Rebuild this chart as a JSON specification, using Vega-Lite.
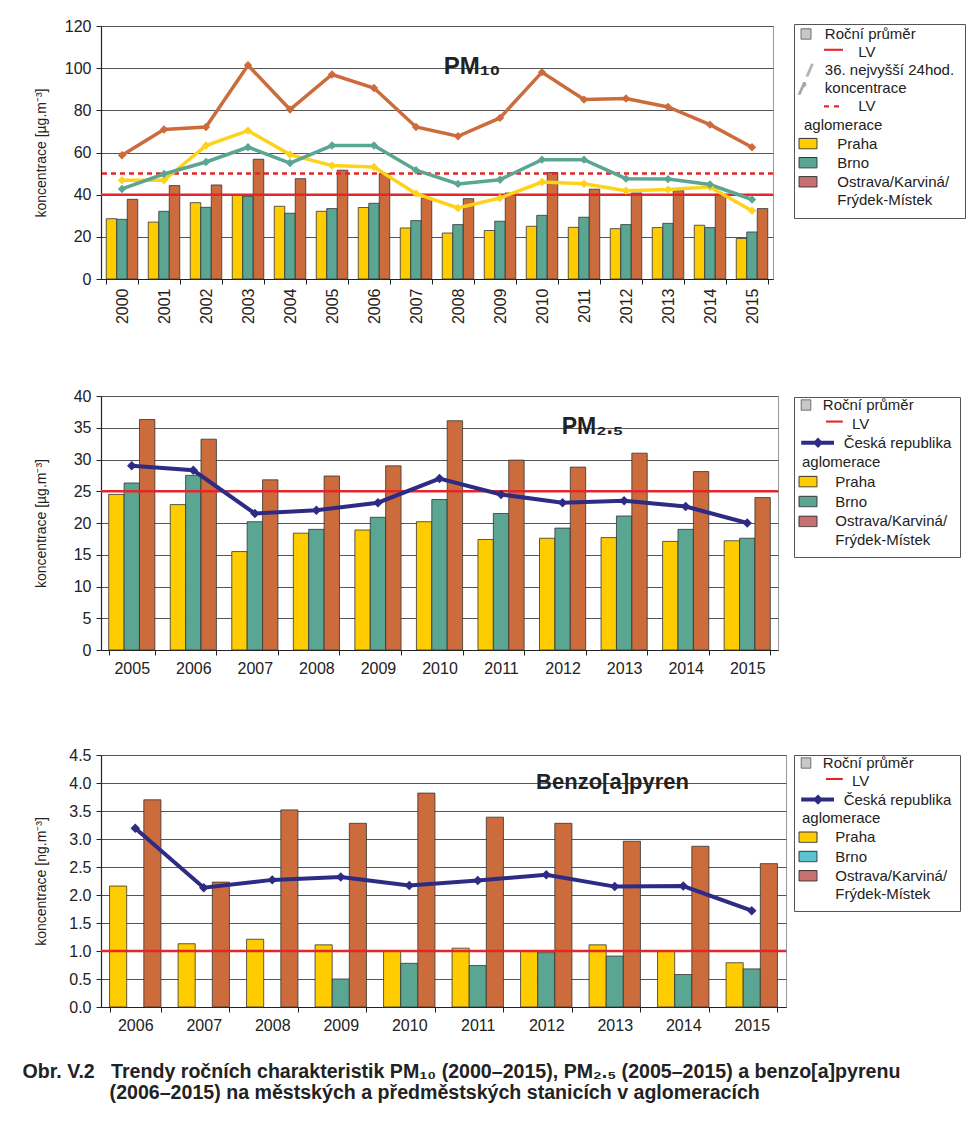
{
  "$schema": "https://vega.github.io/schema/vega-lite/v6.json",
  "padding": {"left": 22, "top": 17, "right": 5, "bottom": 5},
  "autosize": {"type": "pad"},
  "background": "white",
  "config": {
    "font": "Liberation Sans",
    "view": {"stroke": "#999999", "strokeWidth": 1},
    "axis": {
      "labelFontSize": 16, "labelColor": "#222222", "labelFont": "Liberation Sans",
      "titleFontSize": 14, "titleFontWeight": "normal", "titleColor": "#222222", "titleFont": "Liberation Sans",
      "domainColor": "#222222", "domainWidth": 1.2, "tickColor": "#222222", "tickSize": 5,
      "gridColor": "#555555", "gridWidth": 1
    },
    "legend": {"labelFont": "Liberation Sans"}
  },
  "datasets": {
    "pm10": [
      {"year": "2000", "city": "Praha", "mean": 28.6, "p36": 46.8},
      {"year": "2001", "city": "Praha", "mean": 27.0, "p36": 46.8},
      {"year": "2002", "city": "Praha", "mean": 36.2, "p36": 63.3},
      {"year": "2003", "city": "Praha", "mean": 40.0, "p36": 70.4},
      {"year": "2004", "city": "Praha", "mean": 34.5, "p36": 59.0},
      {"year": "2005", "city": "Praha", "mean": 32.1, "p36": 53.8},
      {"year": "2006", "city": "Praha", "mean": 33.9, "p36": 53.1},
      {"year": "2007", "city": "Praha", "mean": 24.2, "p36": 40.5},
      {"year": "2008", "city": "Praha", "mean": 21.8, "p36": 33.7},
      {"year": "2009", "city": "Praha", "mean": 23.0, "p36": 38.4},
      {"year": "2010", "city": "Praha", "mean": 25.0, "p36": 46.0},
      {"year": "2011", "city": "Praha", "mean": 24.5, "p36": 45.2},
      {"year": "2012", "city": "Praha", "mean": 23.9, "p36": 41.9},
      {"year": "2013", "city": "Praha", "mean": 24.4, "p36": 42.4},
      {"year": "2014", "city": "Praha", "mean": 25.5, "p36": 43.6},
      {"year": "2015", "city": "Praha", "mean": 19.2, "p36": 32.4},
      {"year": "2000", "city": "Brno", "mean": 28.3, "p36": 42.7},
      {"year": "2001", "city": "Brno", "mean": 32.1, "p36": 49.8},
      {"year": "2002", "city": "Brno", "mean": 34.0, "p36": 55.5},
      {"year": "2003", "city": "Brno", "mean": 39.2, "p36": 62.5},
      {"year": "2004", "city": "Brno", "mean": 31.2, "p36": 55.0},
      {"year": "2005", "city": "Brno", "mean": 33.4, "p36": 63.3},
      {"year": "2006", "city": "Brno", "mean": 35.9, "p36": 63.3},
      {"year": "2007", "city": "Brno", "mean": 27.7, "p36": 51.6},
      {"year": "2008", "city": "Brno", "mean": 25.8, "p36": 45.1},
      {"year": "2009", "city": "Brno", "mean": 27.4, "p36": 47.1},
      {"year": "2010", "city": "Brno", "mean": 30.2, "p36": 56.6},
      {"year": "2011", "city": "Brno", "mean": 29.3, "p36": 56.6},
      {"year": "2012", "city": "Brno", "mean": 25.8, "p36": 47.6},
      {"year": "2013", "city": "Brno", "mean": 26.4, "p36": 47.4},
      {"year": "2014", "city": "Brno", "mean": 24.4, "p36": 44.8},
      {"year": "2015", "city": "Brno", "mean": 22.3, "p36": 37.7},
      {"year": "2000", "city": "Ostrava/Karviná/Frýdek-Místek", "mean": 37.8, "p36": 58.7},
      {"year": "2001", "city": "Ostrava/Karviná/Frýdek-Místek", "mean": 44.3, "p36": 70.9},
      {"year": "2002", "city": "Ostrava/Karviná/Frýdek-Místek", "mean": 44.6, "p36": 72.1},
      {"year": "2003", "city": "Ostrava/Karviná/Frýdek-Místek", "mean": 56.8, "p36": 101.4},
      {"year": "2004", "city": "Ostrava/Karviná/Frýdek-Místek", "mean": 47.6, "p36": 80.4},
      {"year": "2005", "city": "Ostrava/Karviná/Frýdek-Místek", "mean": 51.6, "p36": 97.0},
      {"year": "2006", "city": "Ostrava/Karviná/Frýdek-Místek", "mean": 50.0, "p36": 90.6},
      {"year": "2007", "city": "Ostrava/Karviná/Frýdek-Místek", "mean": 38.4, "p36": 72.1},
      {"year": "2008", "city": "Ostrava/Karviná/Frýdek-Místek", "mean": 38.1, "p36": 67.7},
      {"year": "2009", "city": "Ostrava/Karviná/Frýdek-Místek", "mean": 40.8, "p36": 76.4},
      {"year": "2010", "city": "Ostrava/Karviná/Frýdek-Místek", "mean": 50.5, "p36": 98.1},
      {"year": "2011", "city": "Ostrava/Karviná/Frýdek-Místek", "mean": 42.6, "p36": 85.1},
      {"year": "2012", "city": "Ostrava/Karviná/Frýdek-Místek", "mean": 40.8, "p36": 85.6},
      {"year": "2013", "city": "Ostrava/Karviná/Frýdek-Místek", "mean": 41.9, "p36": 81.6},
      {"year": "2014", "city": "Ostrava/Karviná/Frýdek-Místek", "mean": 40.2, "p36": 73.2},
      {"year": "2015", "city": "Ostrava/Karviná/Frýdek-Místek", "mean": 33.4, "p36": 62.5}
    ],
    "lv10": [{"typ": "LV", "value": 40}, {"typ": "LV36", "value": 50}],
    "pm25": [
      {"year": "2005", "city": "Praha", "mean": 24.5},
      {"year": "2006", "city": "Praha", "mean": 22.9},
      {"year": "2007", "city": "Praha", "mean": 15.5},
      {"year": "2008", "city": "Praha", "mean": 18.4},
      {"year": "2009", "city": "Praha", "mean": 18.9},
      {"year": "2010", "city": "Praha", "mean": 20.2},
      {"year": "2011", "city": "Praha", "mean": 17.4},
      {"year": "2012", "city": "Praha", "mean": 17.6},
      {"year": "2013", "city": "Praha", "mean": 17.7},
      {"year": "2014", "city": "Praha", "mean": 17.1},
      {"year": "2015", "city": "Praha", "mean": 17.2},
      {"year": "2005", "city": "Brno", "mean": 26.3},
      {"year": "2006", "city": "Brno", "mean": 27.5},
      {"year": "2007", "city": "Brno", "mean": 20.2},
      {"year": "2008", "city": "Brno", "mean": 19.0},
      {"year": "2009", "city": "Brno", "mean": 20.9},
      {"year": "2010", "city": "Brno", "mean": 23.7},
      {"year": "2011", "city": "Brno", "mean": 21.5},
      {"year": "2012", "city": "Brno", "mean": 19.2},
      {"year": "2013", "city": "Brno", "mean": 21.1},
      {"year": "2014", "city": "Brno", "mean": 19.0},
      {"year": "2015", "city": "Brno", "mean": 17.6},
      {"year": "2005", "city": "Ostrava/Karviná/Frýdek-Místek", "mean": 36.3},
      {"year": "2006", "city": "Ostrava/Karviná/Frýdek-Místek", "mean": 33.2},
      {"year": "2007", "city": "Ostrava/Karviná/Frýdek-Místek", "mean": 26.8},
      {"year": "2008", "city": "Ostrava/Karviná/Frýdek-Místek", "mean": 27.4},
      {"year": "2009", "city": "Ostrava/Karviná/Frýdek-Místek", "mean": 29.0},
      {"year": "2010", "city": "Ostrava/Karviná/Frýdek-Místek", "mean": 36.1},
      {"year": "2011", "city": "Ostrava/Karviná/Frýdek-Místek", "mean": 29.9},
      {"year": "2012", "city": "Ostrava/Karviná/Frýdek-Místek", "mean": 28.8},
      {"year": "2013", "city": "Ostrava/Karviná/Frýdek-Místek", "mean": 31.0},
      {"year": "2014", "city": "Ostrava/Karviná/Frýdek-Místek", "mean": 28.1},
      {"year": "2015", "city": "Ostrava/Karviná/Frýdek-Místek", "mean": 24.0}
    ],
    "pm25cr": [
      {"year": "2005", "value": 29.0}, {"year": "2006", "value": 28.3}, {"year": "2007", "value": 21.5},
      {"year": "2008", "value": 22.0}, {"year": "2009", "value": 23.2}, {"year": "2010", "value": 27.0},
      {"year": "2011", "value": 24.5}, {"year": "2012", "value": 23.2}, {"year": "2013", "value": 23.5},
      {"year": "2014", "value": 22.6}, {"year": "2015", "value": 20.0}
    ],
    "lv25": [{"typ": "LV", "value": 25}],
    "bap": [
      {"year": "2006", "city": "Praha", "mean": 2.16},
      {"year": "2007", "city": "Praha", "mean": 1.13},
      {"year": "2008", "city": "Praha", "mean": 1.21},
      {"year": "2009", "city": "Praha", "mean": 1.11},
      {"year": "2010", "city": "Praha", "mean": 1.0},
      {"year": "2011", "city": "Praha", "mean": 1.05},
      {"year": "2012", "city": "Praha", "mean": 1.0},
      {"year": "2013", "city": "Praha", "mean": 1.11},
      {"year": "2014", "city": "Praha", "mean": 1.0},
      {"year": "2015", "city": "Praha", "mean": 0.79},
      {"year": "2009", "city": "Brno", "mean": 0.5},
      {"year": "2010", "city": "Brno", "mean": 0.78},
      {"year": "2011", "city": "Brno", "mean": 0.74},
      {"year": "2012", "city": "Brno", "mean": 0.97},
      {"year": "2013", "city": "Brno", "mean": 0.91},
      {"year": "2014", "city": "Brno", "mean": 0.58},
      {"year": "2015", "city": "Brno", "mean": 0.68},
      {"year": "2006", "city": "Ostrava/Karviná/Frýdek-Místek", "mean": 3.7},
      {"year": "2007", "city": "Ostrava/Karviná/Frýdek-Místek", "mean": 2.23},
      {"year": "2008", "city": "Ostrava/Karviná/Frýdek-Místek", "mean": 3.52},
      {"year": "2009", "city": "Ostrava/Karviná/Frýdek-Místek", "mean": 3.28},
      {"year": "2010", "city": "Ostrava/Karviná/Frýdek-Místek", "mean": 3.82},
      {"year": "2011", "city": "Ostrava/Karviná/Frýdek-Místek", "mean": 3.39},
      {"year": "2012", "city": "Ostrava/Karviná/Frýdek-Místek", "mean": 3.28},
      {"year": "2013", "city": "Ostrava/Karviná/Frýdek-Místek", "mean": 2.96},
      {"year": "2014", "city": "Ostrava/Karviná/Frýdek-Místek", "mean": 2.87},
      {"year": "2015", "city": "Ostrava/Karviná/Frýdek-Místek", "mean": 2.56}
    ],
    "bapcr": [
      {"year": "2006", "value": 3.19}, {"year": "2007", "value": 2.13}, {"year": "2008", "value": 2.27},
      {"year": "2009", "value": 2.32}, {"year": "2010", "value": 2.17}, {"year": "2011", "value": 2.26},
      {"year": "2012", "value": 2.36}, {"year": "2013", "value": 2.15}, {"year": "2014", "value": 2.16},
      {"year": "2015", "value": 1.72}
    ],
    "lvbap": [{"typ": "LV", "value": 1}]
  },
  "title": {
    "text": ["Obr. V.2\u00a0\u00a0\u00a0Trendy ročních charakteristik PM₁₀ (2000–2015), PM₂.₅ (2005–2015) a benzo[a]pyrenu", "\u200b\u00a0\u00a0\u00a0\u00a0\u00a0\u00a0\u00a0\u00a0\u00a0\u00a0\u00a0\u00a0\u00a0\u00a0\u00a0\u00a0(2006–2015) na městských a předměstských stanicích v aglomeracích"],
    "orient": "bottom", "anchor": "start", "frame": "bounds",
    "fontSize": 19.6, "fontWeight": "bold", "color": "#222222", "font": "Liberation Sans",
    "offset": 29, "dx": -11, "lineHeight": 21
  },
  "spacing": 62,
  "resolve": {"scale": {"fill": "independent", "color": "independent", "strokeDash": "independent", "xOffset": "independent"}, "legend": {"strokeDash": "independent"}},
  "vconcat": [
    {
      "width": 672, "height": 253,
      "title": {"text": "PM₁₀", "fontSize": 24, "fontWeight": "bold", "color": "#222222", "anchor": "middle", "frame": "group", "dx": 35, "offset": -80, "baseline": "alphabetic"},
      "layer": [
        {
          "data": {"name": "pm10"},
          "mark": {"type": "bar", "stroke": "#333333", "strokeWidth": 0.8},
          "encoding": {
            "x": {"field": "year", "type": "nominal", "title": null,
              "scale": {"paddingInner": 0.25, "paddingOuter": 0.125},
              "axis": {"labelAngle": -90, "tickBand": "extent", "grid": false, "labelPadding": 4}},
            "xOffset": {"field": "city", "type": "nominal", "scale": {"domain": ["Praha", "Brno", "Ostrava/Karviná/Frýdek-Místek"], "paddingInner": 0, "paddingOuter": 0}},
            "y": {"field": "mean", "type": "quantitative", "title": "koncentrace [µg.m⁻³]",
              "scale": {"domain": [0, 120]},
              "axis": {"values": [0, 20, 40, 60, 80, 100, 120], "grid": true, "labelPadding": 5, "minExtent": 43, "maxExtent": 43, "titlePadding": 10}},
            "fill": {"field": "city", "type": "nominal", "legend": null,
              "scale": {"domain": ["Praha", "Brno", "Ostrava/Karviná/Frýdek-Místek"], "range": ["#ffcc00", "#5ba593", "#cc6b3b"]}}
          }
        },
        {
          "data": {"name": "lv10"},
          "mark": {"type": "rule", "color": "#e3262a"},
          "encoding": {
            "y": {"field": "value", "type": "quantitative", "title": "koncentrace [µg.m⁻³]",
              "scale": {"domain": [0, 120]},
              "axis": {"values": [0, 20, 40, 60, 80, 100, 120], "grid": true, "labelPadding": 5, "minExtent": 43, "maxExtent": 43, "titlePadding": 10}},
            "strokeWidth": {"value": 2.5},
            "strokeDash": {"field": "typ", "type": "nominal",
              "scale": {"domain": ["Roční průměr", "LV", "36. nejvyšší 24hod.", "koncentrace", "LV36", "aglomerace", "Praha", "Brno", "Ostrava/Karviná/", "Frýdek-Místek"],
                "range": [[1, 0], [1, 0], [1, 0], [1, 0], [5, 4], [1, 0], [1, 0], [1, 0], [1, 0], [1, 0]]},
              "legend": {
                "title": null, "orient": "none", "legendX": 693, "legendY": -2, "padding": 10,
                "strokeColor": "#555555", "fillColor": "white", "rowPadding": 3.1,
                "symbolSize": 256, "labelFontSize": 15, "labelColor": "#222222", "labelLimit": 300, "labelOffset": -13,
                "labelExpr": "['\u200b\u00a0\u00a0\u00a0\u00a0\u00a0','\u200b\u00a0\u00a0\u00a0\u00a0\u00a0\u00a0\u00a0\u00a0\u00a0\u00a0\u00a0\u00a0\u00a0','\u200b\u00a0\u00a0\u00a0\u00a0\u00a0','\u200b\u00a0\u00a0\u00a0\u00a0\u00a0','\u200b\u00a0\u00a0\u00a0\u00a0\u00a0\u00a0\u00a0\u00a0\u00a0\u00a0\u00a0\u00a0\u00a0','','\u200b\u00a0\u00a0\u00a0\u00a0\u00a0\u00a0\u00a0\u00a0','\u200b\u00a0\u00a0\u00a0\u00a0\u00a0\u00a0\u00a0\u00a0','\u200b\u00a0\u00a0\u00a0\u00a0\u00a0\u00a0\u00a0\u00a0','\u200b\u00a0\u00a0\u00a0\u00a0\u00a0\u00a0\u00a0\u00a0'][indexof(['Roční průměr','LV','36. nejvyšší 24hod.','koncentrace','LV36','aglomerace','Praha','Brno','Ostrava/Karviná/','Frýdek-Místek'], datum.value)] + (datum.value == 'LV36' ? 'LV' : datum.label)",
                "symbolType": {"expr": "['M-0.375,-0.65H0.875V0.65H-0.375Z','M2.5,-0.42H4.875V-0.16H2.5Z','M0.87,-0.8L1.25,-0.8L0.56,0.8L0.18,0.8Z','M-0.11,-0.8L0.27,-0.8L-0.42,0.8L-0.8,0.8ZM0.05,-0.8L0.35,-0.45L0.05,-0.1L-0.25,-0.45Z','M2.5,-0.15H3.125V0.15H2.5ZM3.75,-0.15H4.375V0.15H3.75Z','M0,0','M-0.625,-0.65H1.625V0.65H-0.625Z','M-0.625,-0.65H1.625V0.65H-0.625Z','M-0.625,-0.65H1.625V0.65H-0.625Z','M0,0'][indexof(['Roční průměr','LV','36. nejvyšší 24hod.','koncentrace','LV36','aglomerace','Praha','Brno','Ostrava/Karviná/','Frýdek-Místek'], datum.value)]"},
                "symbolFillColor": {"expr": "['#c8c8c8','#e3262a','#b4b4b4','#a8a8a8','#e3262a','transparent','#ffcc00','#5ba593','#c87070','transparent'][indexof(['Roční průměr','LV','36. nejvyšší 24hod.','koncentrace','LV36','aglomerace','Praha','Brno','Ostrava/Karviná/','Frýdek-Místek'], datum.value)]"},
                "symbolStrokeColor": {"expr": "['#666666','transparent','transparent','transparent','transparent','transparent','#333333','#333333','#333333','transparent'][indexof(['Roční průměr','LV','36. nejvyšší 24hod.','koncentrace','LV36','aglomerace','Praha','Brno','Ostrava/Karviná/','Frýdek-Místek'], datum.value)]"},
                "symbolStrokeWidth": {"expr": "[1,0,0,0,0,0,1,1,1,0][indexof(['Roční průměr','LV','36. nejvyšší 24hod.','koncentrace','LV36','aglomerace','Praha','Brno','Ostrava/Karviná/','Frýdek-Místek'], datum.value)]"}
              }
            }
          }
        },
        {
          "data": {"name": "pm10"},
          "mark": {"type": "line", "strokeWidth": 3.5, "point": {"shape": "diamond", "size": 70, "filled": true}},
          "encoding": {
            "x": {"field": "year", "type": "nominal"},
            "y": {"field": "p36", "type": "quantitative", "title": "koncentrace [µg.m⁻³]",
              "scale": {"domain": [0, 120]},
              "axis": {"values": [0, 20, 40, 60, 80, 100, 120], "grid": true, "labelPadding": 5, "minExtent": 43, "maxExtent": 43, "titlePadding": 10}},
            "color": {"field": "city", "type": "nominal", "legend": null,
              "scale": {"domain": ["Praha", "Brno", "Ostrava/Karviná/Frýdek-Místek"], "range": ["#ffd21a", "#5ba593", "#cc6b3b"]}}
          }
        }
      ]
    },
    {
      "spacing": 69,
      "resolve": {"scale": {"fill": "independent", "color": "independent", "strokeDash": "independent", "xOffset": "independent"}, "legend": {"strokeDash": "independent"}},
      "vconcat": [
        {
          "width": 677, "height": 254,
          "title": {"text": "PM₂.₅", "fontSize": 23, "fontWeight": "bold", "color": "#222222", "anchor": "middle", "frame": "group", "dx": 153, "offset": -69, "baseline": "alphabetic"},
          "layer": [
            {
              "data": {"name": "pm25"},
              "mark": {"type": "bar", "stroke": "#333333", "strokeWidth": 0.8},
              "encoding": {
                "x": {"field": "year", "type": "nominal", "title": null,
                  "scale": {"paddingInner": 0.25, "paddingOuter": 0.125},
                  "axis": {"labelAngle": 0, "tickBand": "extent", "grid": false, "labelPadding": 5}},
                "xOffset": {"field": "city", "type": "nominal", "scale": {"domain": ["Praha", "Brno", "Ostrava/Karviná/Frýdek-Místek"], "paddingInner": 0, "paddingOuter": 0}},
                "y": {"field": "mean", "type": "quantitative", "title": "koncentrace [µg.m⁻³]",
                  "scale": {"domain": [0, 40]},
                  "axis": {"values": [0, 5, 10, 15, 20, 25, 30, 35, 40], "grid": true, "labelPadding": 5, "minExtent": 43, "maxExtent": 43, "titlePadding": 10}},
                "fill": {"field": "city", "type": "nominal", "legend": null,
                  "scale": {"domain": ["Praha", "Brno", "Ostrava/Karviná/Frýdek-Místek"], "range": ["#ffcc00", "#5ba593", "#cc6b3b"]}}
              }
            },
            {
              "data": {"name": "lv25"},
              "mark": {"type": "rule", "color": "#e3262a"},
              "encoding": {
                "y": {"field": "value", "type": "quantitative", "title": "koncentrace [µg.m⁻³]",
                  "scale": {"domain": [0, 40]},
                  "axis": {"values": [0, 5, 10, 15, 20, 25, 30, 35, 40], "grid": true, "labelPadding": 5, "minExtent": 43, "maxExtent": 43, "titlePadding": 10}},
                "strokeWidth": {"value": 2.5},
                "strokeDash": {"field": "typ", "type": "nominal",
                  "scale": {"domain": ["Roční průměr", "LV", "Česká republika", "aglomerace", "Praha", "Brno", "Ostrava/Karviná/", "Frýdek-Místek"],
                    "range": [[1, 0], [1, 0], [1, 0], [1, 0], [1, 0], [1, 0], [1, 0], [1, 0]]},
                  "legend": {
                    "title": null, "orient": "none", "legendX": 693, "legendY": 1, "padding": 8,
                    "strokeColor": "#555555", "fillColor": "white", "rowPadding": 3.9,
                    "symbolSize": 256, "labelFontSize": 15, "labelColor": "#222222", "labelLimit": 300, "labelOffset": -9,
                    "labelExpr": "['\u200b\u00a0\u00a0\u00a0\u00a0\u00a0','\u200b\u00a0\u00a0\u00a0\u00a0\u00a0\u00a0\u00a0\u00a0\u00a0\u00a0\u00a0\u00a0','\u200b\u00a0\u00a0\u00a0\u00a0\u00a0\u00a0\u00a0\u00a0\u00a0\u00a0','','\u200b\u00a0\u00a0\u00a0\u00a0\u00a0\u00a0\u00a0\u00a0','\u200b\u00a0\u00a0\u00a0\u00a0\u00a0\u00a0\u00a0\u00a0','\u200b\u00a0\u00a0\u00a0\u00a0\u00a0\u00a0\u00a0\u00a0','\u200b\u00a0\u00a0\u00a0\u00a0\u00a0\u00a0\u00a0\u00a0'][indexof(['Roční průměr','LV','Česká republika','aglomerace','Praha','Brno','Ostrava/Karviná/','Frýdek-Místek'], datum.value)] + datum.label",
                    "symbolType": {"expr": "['M-0.1,-0.65H1.1V0.65H-0.1Z','M3,-0.42H5.1V-0.16H3Z','M-0.1,-0.25H4V0.25H-0.1ZM2,-0.65L2.65,0L2,0.65L1.35,0Z','M0,0','M-0.375,-0.65H1.875V0.65H-0.375Z','M-0.375,-0.65H1.875V0.65H-0.375Z','M-0.375,-0.65H1.875V0.65H-0.375Z','M0,0'][indexof(['Roční průměr','LV','Česká republika','aglomerace','Praha','Brno','Ostrava/Karviná/','Frýdek-Místek'], datum.value)]"},
                    "symbolFillColor": {"expr": "['#c8c8c8','#e3262a','#2e2b85','transparent','#ffcc00','#5ba593','#c87070','transparent'][indexof(['Roční průměr','LV','Česká republika','aglomerace','Praha','Brno','Ostrava/Karviná/','Frýdek-Místek'], datum.value)]"},
                    "symbolStrokeColor": {"expr": "['#666666','transparent','transparent','transparent','#333333','#333333','#333333','transparent'][indexof(['Roční průměr','LV','Česká republika','aglomerace','Praha','Brno','Ostrava/Karviná/','Frýdek-Místek'], datum.value)]"},
                    "symbolStrokeWidth": {"expr": "[1,0,0,0,1,1,1,0][indexof(['Roční průměr','LV','Česká republika','aglomerace','Praha','Brno','Ostrava/Karviná/','Frýdek-Místek'], datum.value)]"}
                  }
                }
              }
            },
            {
              "data": {"name": "pm25cr"},
              "mark": {"type": "line", "color": "#2e2b85", "strokeWidth": 4, "point": {"shape": "diamond", "size": 90, "filled": true, "color": "#2e2b85"}},
              "encoding": {
                "x": {"field": "year", "type": "nominal"},
                "y": {"field": "value", "type": "quantitative", "title": "koncentrace [µg.m⁻³]",
                  "scale": {"domain": [0, 40]},
                  "axis": {"values": [0, 5, 10, 15, 20, 25, 30, 35, 40], "grid": true, "labelPadding": 5, "minExtent": 43, "maxExtent": 43, "titlePadding": 10}}
              }
            }
          ]
        },
        {
          "width": 685, "height": 252,
          "title": {"text": "Benzo[a]pyren", "fontSize": 22, "fontWeight": "bold", "color": "#222222", "anchor": "middle", "frame": "group", "dx": 169, "offset": -64, "baseline": "alphabetic"},
          "layer": [
            {
              "data": {"name": "bap"},
              "mark": {"type": "bar", "stroke": "#333333", "strokeWidth": 0.8},
              "encoding": {
                "x": {"field": "year", "type": "nominal", "title": null,
                  "scale": {"paddingInner": 0.25, "paddingOuter": 0.125},
                  "axis": {"labelAngle": 0, "tickBand": "extent", "grid": false, "labelPadding": 5}},
                "xOffset": {"field": "city", "type": "nominal", "scale": {"domain": ["Praha", "Brno", "Ostrava/Karviná/Frýdek-Místek"], "paddingInner": 0, "paddingOuter": 0}},
                "y": {"field": "mean", "type": "quantitative", "title": "koncentrace [ng.m⁻³]",
                  "scale": {"domain": [0, 4.5]},
                  "axis": {"values": [0, 0.5, 1, 1.5, 2, 2.5, 3, 3.5, 4, 4.5], "format": ".1f", "grid": true, "labelPadding": 5, "minExtent": 43, "maxExtent": 43, "titlePadding": 10}},
                "fill": {"field": "city", "type": "nominal", "legend": null,
                  "scale": {"domain": ["Praha", "Brno", "Ostrava/Karviná/Frýdek-Místek"], "range": ["#ffcc00", "#5ba593", "#cc6b3b"]}}
              }
            },
            {
              "data": {"name": "lvbap"},
              "mark": {"type": "rule", "color": "#e3262a"},
              "encoding": {
                "y": {"field": "value", "type": "quantitative", "title": "koncentrace [ng.m⁻³]",
                  "scale": {"domain": [0, 4.5]},
                  "axis": {"values": [0, 0.5, 1, 1.5, 2, 2.5, 3, 3.5, 4, 4.5], "format": ".1f", "grid": true, "labelPadding": 5, "minExtent": 43, "maxExtent": 43, "titlePadding": 10}},
                "strokeWidth": {"value": 2.5},
                "strokeDash": {"field": "typ", "type": "nominal",
                  "scale": {"domain": ["Roční průměr", "LV", "Česká republika", "aglomerace", "Praha", "Brno", "Ostrava/Karviná/", "Frýdek-Místek"],
                    "range": [[1, 0], [1, 0], [1, 0], [1, 0], [1, 0], [1, 0], [1, 0], [1, 0]]},
                  "legend": {
                    "title": null, "orient": "none", "legendX": 693, "legendY": 0, "padding": 8,
                    "strokeColor": "#555555", "fillColor": "white", "rowPadding": 3.3,
                    "symbolSize": 256, "labelFontSize": 15, "labelColor": "#222222", "labelLimit": 300, "labelOffset": -9,
                    "labelExpr": "['\u200b\u00a0\u00a0\u00a0\u00a0\u00a0','\u200b\u00a0\u00a0\u00a0\u00a0\u00a0\u00a0\u00a0\u00a0\u00a0\u00a0\u00a0\u00a0','\u200b\u00a0\u00a0\u00a0\u00a0\u00a0\u00a0\u00a0\u00a0\u00a0\u00a0','','\u200b\u00a0\u00a0\u00a0\u00a0\u00a0\u00a0\u00a0\u00a0','\u200b\u00a0\u00a0\u00a0\u00a0\u00a0\u00a0\u00a0\u00a0','\u200b\u00a0\u00a0\u00a0\u00a0\u00a0\u00a0\u00a0\u00a0','\u200b\u00a0\u00a0\u00a0\u00a0\u00a0\u00a0\u00a0\u00a0'][indexof(['Roční průměr','LV','Česká republika','aglomerace','Praha','Brno','Ostrava/Karviná/','Frýdek-Místek'], datum.value)] + datum.label",
                    "symbolType": {"expr": "['M-0.1,-0.65H1.1V0.65H-0.1Z','M3,-0.42H5.1V-0.16H3Z','M-0.1,-0.25H4V0.25H-0.1ZM2,-0.65L2.65,0L2,0.65L1.35,0Z','M0,0','M-0.375,-0.65H1.875V0.65H-0.375Z','M-0.375,-0.65H1.875V0.65H-0.375Z','M-0.375,-0.65H1.875V0.65H-0.375Z','M0,0'][indexof(['Roční průměr','LV','Česká republika','aglomerace','Praha','Brno','Ostrava/Karviná/','Frýdek-Místek'], datum.value)]"},
                    "symbolFillColor": {"expr": "['#c8c8c8','#e3262a','#2e2b85','transparent','#ffcc00','#5bc3ce','#c87070','transparent'][indexof(['Roční průměr','LV','Česká republika','aglomerace','Praha','Brno','Ostrava/Karviná/','Frýdek-Místek'], datum.value)]"},
                    "symbolStrokeColor": {"expr": "['#666666','transparent','transparent','transparent','#333333','#333333','#333333','transparent'][indexof(['Roční průměr','LV','Česká republika','aglomerace','Praha','Brno','Ostrava/Karviná/','Frýdek-Místek'], datum.value)]"},
                    "symbolStrokeWidth": {"expr": "[1,0,0,0,1,1,1,0][indexof(['Roční průměr','LV','Česká republika','aglomerace','Praha','Brno','Ostrava/Karviná/','Frýdek-Místek'], datum.value)]"}
                  }
                }
              }
            },
            {
              "data": {"name": "bapcr"},
              "mark": {"type": "line", "color": "#2e2b85", "strokeWidth": 4, "point": {"shape": "diamond", "size": 90, "filled": true, "color": "#2e2b85"}},
              "encoding": {
                "x": {"field": "year", "type": "nominal"},
                "y": {"field": "value", "type": "quantitative", "title": "koncentrace [ng.m⁻³]",
                  "scale": {"domain": [0, 4.5]},
                  "axis": {"values": [0, 0.5, 1, 1.5, 2, 2.5, 3, 3.5, 4, 4.5], "format": ".1f", "grid": true, "labelPadding": 5, "minExtent": 43, "maxExtent": 43, "titlePadding": 10}}
              }
            }
          ]
        }
      ]
    }
  ]
}
